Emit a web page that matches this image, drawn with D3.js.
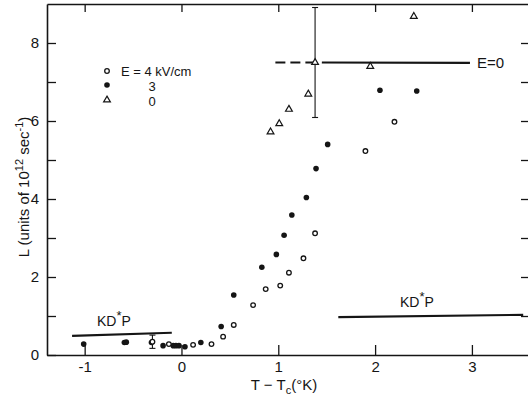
<!DOCTYPE html>
<html><head><meta charset="utf-8">
<script src="https://cdn.jsdelivr.net/npm/d3@7"></script>
<style>
body{margin:0;background:#fff}
svg{display:block}
text{font-family:"Liberation Sans",Arial,sans-serif;fill:#151515}
</style>
</head><body>
<svg id="c" width="528" height="398"></svg>
<script>
// ---- data ----
const xTicks = [-1, 0, 1, 2, 3];
const yTicks = [0, 1, 2, 3, 4, 5, 6, 7, 8];
const yTickLabels = ["0", "", "2", "", "4", "", "6", "", "8"];
// E = 4 kV/cm (open circles): [T - Tc, L]
const openE4 = [[-0.30,0.34],[-0.13,0.28],[0.12,0.26],[0.31,0.28],[0.43,0.47],[0.54,0.77],[0.74,1.28],[0.87,1.69],[1.02,1.78],[1.11,2.11],[1.26,2.48],[1.38,3.12],[1.90,5.23],[2.20,5.98]];
// E = 3 kV/cm (filled dots)
const filledE3 = [[-1.01,0.28],[-0.59,0.32],[-0.57,0.33],[-0.31,0.32],[-0.19,0.24],[-0.085,0.24],[-0.057,0.24],[-0.026,0.24],[0.036,0.21],[0.20,0.32],[0.41,0.73],[0.54,1.54],[0.83,2.25],[0.98,2.58],[1.06,3.07],[1.14,3.59],[1.29,4.04],[1.39,4.78],[1.51,5.40],[2.05,6.79],[2.43,6.77]];
// E = 0 (open triangles)
const triE0 = [[0.92,5.72],[1.01,5.93],[1.11,6.30],[1.31,6.69],[1.38,7.50],[1.95,7.40],[2.40,8.68]];
// error bars: [x, low, high]
const errBars = [[-0.30,0.17,0.51],[1.38,6.09,8.91]];
// KD*P reference levels: segments [[x1,y1],[x2,y2]]
const kdpLeft = [[-1.13,0.49],[-0.10,0.57]];
const kdpRight = [[1.62,0.97],[3.53,1.03]];
// E = 0 level
const e0Dashed = [[0.97,7.50],[1.37,7.50]];
const e0Solid = [[1.45,7.50],[2.98,7.49]];
const legendItems = [["open","E = 4 kV/cm"],["filled","3"],["tri","0"]];

// ---- layout ----
const svg = d3.select("#c");
const L = 47, R = 530, T = 4, B = 355;
const x = d3.scaleLinear().domain([-1.389, 3.600]).range([L, R]);
const y = d3.scaleLinear().domain([0, 9]).range([B, T]);
const ink = "#151515";

function styleAxis(g){
  g.selectAll("path.domain").attr("stroke", ink).attr("stroke-width", 1.6);
  g.selectAll(".tick line").attr("stroke", ink).attr("stroke-width", 1.3);
  g.selectAll("text").attr("font-size", 15).attr("fill", ink)
    .style("font-family", '"Liberation Sans",Arial,sans-serif');
}

svg.append("g").attr("transform", `translate(0,${B})`)
  .call(d3.axisBottom(x).tickValues(xTicks).tickSize(-10).tickSizeOuter(0).tickPadding(6)
    .tickFormat(d => d < 0 ? "-" + Math.abs(d) : d))
  .call(styleAxis);
svg.append("g").attr("transform", `translate(0,${T})`)
  .call(d3.axisTop(x).tickValues(xTicks).tickSize(-8).tickSizeOuter(0).tickFormat(""))
  .call(styleAxis);
svg.append("g").attr("transform", `translate(${L},0)`)
  .call(d3.axisLeft(y).tickValues(yTicks).tickSize(-9).tickSizeOuter(0).tickPadding(8)
    .tickFormat((d,i) => yTickLabels[i]))
  .call(styleAxis);
svg.append("g").attr("transform", `translate(${R},0)`)
  .call(d3.axisRight(y).tickValues(yTicks.slice(1)).tickSize(-9).tickSizeOuter(0).tickFormat(""))
  .call(styleAxis);

// ---- reference lines ----
const line = d3.line().x(d => x(d[0])).y(d => y(d[1]));
[kdpLeft, kdpRight].forEach(s => svg.append("path").attr("d", line(s))
  .attr("stroke", ink).attr("stroke-width", 2.2).attr("fill", "none"));
svg.append("path").attr("d", line(e0Dashed)).attr("stroke", ink).attr("stroke-width", 2.2)
  .attr("stroke-dasharray", "10,5").attr("fill", "none");
svg.append("path").attr("d", line(e0Solid)).attr("stroke", ink).attr("stroke-width", 2.2).attr("fill", "none");

// ---- error bars ----
errBars.forEach(([xv, lo, hi]) => {
  const g = svg.append("g").attr("stroke", ink).attr("stroke-width", 1.1);
  g.append("line").attr("x1", x(xv)).attr("x2", x(xv)).attr("y1", y(lo)).attr("y2", y(hi));
  [lo, hi].forEach(v => g.append("line").attr("x1", x(xv) - 3).attr("x2", x(xv) + 3)
    .attr("y1", y(v)).attr("y2", y(v)));
});

// ---- markers ----
const triPath = d3.symbol(d3.symbolTriangle, 20);
function drawMarker(g, kind, cx, cy){
  if (kind === "open") g.append("circle").attr("cx", cx).attr("cy", cy).attr("r", 2.3)
    .attr("fill", "#fff").attr("stroke", ink).attr("stroke-width", 1.3);
  else if (kind === "filled") g.append("circle").attr("cx", cx).attr("cy", cy).attr("r", 2.8).attr("fill", ink);
  else g.append("path").attr("d", triPath()).attr("transform", `translate(${cx},${cy})`)
    .attr("fill", "#fff").attr("stroke", ink).attr("stroke-width", 1.2);
}
const mg = svg.append("g");
filledE3.forEach(d => drawMarker(mg, "filled", x(d[0]), y(d[1])));
openE4.forEach(d => drawMarker(mg, "open", x(d[0]), y(d[1])));
triE0.forEach(d => drawMarker(mg, "tri", x(d[0]), y(d[1])));

// ---- legend ----
const lg = svg.append("g");
const legY = [71, 85, 100], legBase = [75.5, 90.5, 106];
legendItems.forEach(([kind, label], i) => {
  drawMarker(lg, kind, 107, legY[i]);
  const t = lg.append("text").attr("y", legBase[i]).attr("font-size", 13).text(label);
  if (i === 0) t.attr("x", 121); else t.attr("x", 152).attr("text-anchor", "middle");
});

// ---- annotations ----
function kdp(xp, yp){
  const t = svg.append("text").attr("x", xp).attr("y", yp).attr("font-size", 14);
  t.append("tspan").text("KD");
  t.append("tspan").attr("dy", -6).attr("font-size", 13).text("*");
  t.append("tspan").attr("dy", 6).text("P");
}
kdp(97, 326);
kdp(400, 307);
svg.append("text").attr("x", 477).attr("y", 68).attr("font-size", 15).text("E=0");

// axis titles
const xt = svg.append("text").attr("x", 284).attr("y", 390).attr("text-anchor", "middle").attr("font-size", 15);
xt.append("tspan").text("T \u2212 T");
xt.append("tspan").attr("dy", 4).attr("font-size", 11).text("c");
xt.append("tspan").attr("dy", -4).text("(\u00b0K)");

const yt = svg.append("text").attr("transform", "translate(29,187) rotate(-90)")
  .attr("text-anchor", "middle").attr("font-size", 15);
yt.append("tspan").text("L (units of 10");
yt.append("tspan").attr("dy", -6).attr("font-size", 11).text("12");
yt.append("tspan").attr("dy", 6).text(" sec");
yt.append("tspan").attr("dy", -6).attr("font-size", 11).text("-1");
yt.append("tspan").attr("dy", 6).text(")");
</script>
</body></html>
